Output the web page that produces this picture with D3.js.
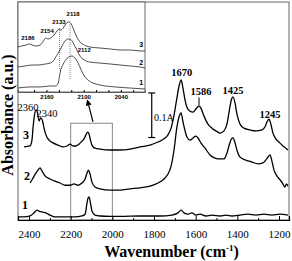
<!DOCTYPE html>
<html>
<head>
<meta charset="utf-8">
<script src="https://cdn.jsdelivr.net/npm/d3@7"></script>
<style>
body { margin: 0; background: #fff; }
</style>
</head>
<body>
<div id="graph"></div>
<script>
var width = 292, height = 261;
var margin = {top: 2, right: 3, bottom: 41, left: 18};

// main spectra: [wavenumber (cm-1), absorbance]
var spectrum1 = [[2453,.007],[2424,.007],[2395,.009],[2376,.016],[2362,.022],[2352,.020],[2338,.018],[2319,.016],[2299,.011],[2275,.007],
  [2227,.007],[2179,.007],[2146,.009],[2131,.013],[2124,.031],[2117,.049],[2112,.052],[2105,.038],[2098,.020],[2083,.011],[2059,.009],
  [2011,.008],[1963,.008],[1867,.009],[1771,.009],[1714,.011],[1685,.016],[1670,.022],[1656,.016],[1637,.013],[1618,.016],[1599,.011],
  [1579,.013],[1551,.009],[1522,.011],[1483,.009],[1455,.011],[1426,.009],[1387,.011],[1349,.013],[1311,.011],[1272,.013],[1234,.011],
  [1195,.013],[1157,.011]];
var spectrum2 = [[2395,.083],[2381,.094],[2367,.105],[2357,.112],[2347,.117],[2338,.110],[2323,.099],[2299,.092],[2275,.087],[2251,.083],
  [2227,.078],[2203,.078],[2184,.081],[2165,.078],[2146,.083],[2131,.092],[2122,.105],[2115,.112],[2107,.103],[2098,.085],[2083,.074],
  [2059,.070],[2011,.067],[1963,.067],[1915,.070],[1867,.072],[1819,.076],[1781,.083],[1752,.092],[1733,.103],[1718,.121],[1704,.157],
  [1690,.209],[1680,.231],[1670,.240],[1661,.220],[1651,.200],[1642,.186],[1627,.179],[1613,.184],[1599,.188],[1589,.184],[1575,.173],
  [1555,.161],[1531,.146],[1507,.139],[1483,.137],[1464,.137],[1450,.150],[1438,.170],[1428,.182],[1421,.184],[1411,.173],[1402,.157],
  [1387,.141],[1363,.135],[1330,.130],[1301,.126],[1277,.128],[1263,.135],[1253,.141],[1243,.146],[1234,.132],[1224,.112],[1210,.099],
  [1195,.090],[1181,.081],[1172,.074],[1164,.081],[1157,.076]];
var spectrum3 = [[2424,.164],[2395,.166],[2386,.179],[2381,.206],[2374,.235],[2367,.247],[2359,.240],[2352,.222],[2347,.227],[2343,.229],
  [2335,.222],[2328,.206],[2319,.191],[2304,.179],[2285,.173],[2261,.168],[2237,.164],[2218,.166],[2203,.170],[2189,.166],[2175,.166],
  [2160,.170],[2146,.177],[2136,.182],[2127,.191],[2119,.197],[2112,.193],[2105,.179],[2098,.168],[2083,.161],[2059,.159],[2011,.157],
  [1963,.157],[1915,.159],[1867,.164],[1819,.168],[1781,.175],[1752,.182],[1733,.191],[1718,.206],[1704,.235],[1690,.274],[1680,.300],
  [1670,.314],[1661,.296],[1651,.269],[1642,.253],[1627,.244],[1613,.242],[1599,.249],[1584,.256],[1575,.251],[1560,.233],[1541,.215],
  [1522,.206],[1503,.200],[1483,.195],[1464,.200],[1450,.215],[1438,.247],[1428,.271],[1421,.276],[1411,.262],[1402,.238],[1387,.215],
  [1368,.206],[1339,.202],[1311,.200],[1282,.202],[1267,.209],[1258,.220],[1248,.226],[1239,.215],[1229,.195],[1215,.182],[1196,.173],
  [1181,.166],[1167,.161],[1157,.157]];

var mainTicks = [2400, 2200, 2000, 1800, 1600, 1400, 1200];
var minorTicks = [2300, 2100, 1900, 1700, 1500, 1300];
var traceNames = [{name: "1", w: 2419, a: .025}, {name: "2", w: 2410, a: .090}, {name: "3", w: 2415, a: .182}];
var peakLabels = [{name: "2360", w: 2405, a: .244, bold: false}, {name: "2340", w: 2314, a: .230, bold: false},
  {name: "1670", w: 1667, a: .322, bold: true}, {name: "1586", w: 1574, a: .280, bold: true},
  {name: "1425", w: 1421, a: .283, bold: true}, {name: "1245", w: 1243, a: .228, bold: true}];

// inset spectra: [wavenumber, relative absorbance]
var inset1 = [[2206,.044],[2187,.056],[2170,.056],[2154,.067],[2145,.067],[2141,.100],[2139,.178],[2137,.244],[2133,.311],[2129,.356],
  [2124,.389],[2119,.400],[2114,.378],[2109,.322],[2104,.244],[2099,.178],[2093,.133],[2085,.100],[2074,.078],[2049,.056],[2025,.044],[2001,.033]];
var inset2 = [[2206,.278],[2195,.289],[2183,.300],[2174,.300],[2162,.311],[2154,.322],[2149,.344],[2145,.389],[2140,.444],[2135,.511],
  [2130,.567],[2125,.589],[2120,.578],[2116,.533],[2111,.467],[2106,.400],[2099,.356],[2090,.333],[2074,.322],[2057,.311],[2041,.300],
  [2025,.289],[2009,.278],[2001,.267]];
var inset3 = [[2206,.500],[2200,.511],[2193,.522],[2188,.533],[2183,.522],[2177,.511],[2170,.522],[2166,.556],[2161,.600],[2158,.589],
  [2153,.600],[2148,.633],[2143,.678],[2140,.700],[2137,.689],[2133,.711],[2129,.756],[2124,.778],[2120,.756],[2116,.689],[2111,.611],
  [2106,.556],[2099,.522],[2090,.500],[2074,.489],[2057,.478],[2041,.467],[2025,.467],[2009,.456],[2001,.456]];
var insetTicks = [2180, 2160, 2140, 2120, 2100, 2080, 2060, 2040, 2020];
var insetLabels = [{name: "2186", w: 2190, v: .578}, {name: "2154", w: 2159, v: .656}, {name: "2133", w: 2140, v: .756},
  {name: "2118", w: 2117, v: .844}, {name: "2112", w: 2099, v: .444}];
var insetNames = [{name: "1", w: 2007, v: .078}, {name: "2", w: 2007, v: .300}, {name: "3", w: 2007, v: .503}];
var dropLines = [{w: 2139, top: .711, bottom: .244}, {w: 2122, top: .756, bottom: .133}];

var svg = d3.select("#graph").append("svg")
    .attr("width", width)
    .attr("height", height)
    .style("font-family", "'Liberation Serif', 'Times New Roman', serif");

var x = d3.scaleLinear().domain([2453, 1152]).range([margin.left, width - margin.right]);
var y = d3.scaleLinear().domain([0, 0.489]).range([height - margin.bottom, margin.top]);

var line = d3.line()
    .x(function(d) { return x(d[0]); })
    .y(function(d) { return y(d[1]); })
    .curve(d3.curveMonotoneX);

// frame
svg.append("rect")
    .attr("x", margin.left).attr("y", margin.top)
    .attr("width", width - margin.right - margin.left)
    .attr("height", height - margin.bottom - margin.top)
    .attr("fill", "none").attr("stroke", "#999").attr("stroke-width", 1.5);

// zoom box and arrow
svg.append("rect")
    .attr("x", x(2200)).attr("y", y(0.217))
    .attr("width", x(2000) - x(2200)).attr("height", y(0) - y(0.217))
    .attr("fill", "none").attr("stroke", "#888").attr("stroke-width", 1);

svg.append("defs").append("marker")
    .attr("id", "head").attr("viewBox", "0 0 10 10")
    .attr("refX", 9).attr("refY", 5)
    .attr("markerWidth", 5).attr("markerHeight", 5)
    .attr("orient", "auto")
    .append("path").attr("d", "M0,0L10,5L0,10z").attr("fill", "#000");

svg.append("line")
    .attr("x1", x(2093)).attr("y1", y(0.220))
    .attr("x2", x(2120)).attr("y2", y(0.269))
    .attr("stroke", "#000").attr("stroke-width", 1.2)
    .attr("marker-end", "url(#head)");

// spectra
svg.selectAll(".trace")
    .data([spectrum1, spectrum2, spectrum3])
    .enter().append("path")
    .attr("class", "trace")
    .attr("d", line)
    .attr("fill", "none")
    .attr("stroke", "#000")
    .attr("stroke-width", 1.3);

// x axis
var xAxis = svg.append("g")
    .attr("transform", "translate(0," + (height - margin.bottom) + ")")
    .call(d3.axisBottom(x).tickValues(mainTicks).tickSize(-4).tickPadding(10).tickFormat(d3.format("d")));
xAxis.select(".domain").attr("stroke", "#000").attr("stroke-width", 1.2);
xAxis.selectAll("text").attr("font-size", 11).attr("font-family", "'Liberation Serif', serif").attr("fill", "#000");

svg.append("g")
    .attr("transform", "translate(0," + (height - margin.bottom) + ")")
    .call(d3.axisBottom(x).tickValues(minorTicks).tickSize(-2).tickFormat(""))
    .select(".domain").remove();

svg.append("text")
    .attr("x", (margin.left + width - margin.right) / 2 + 18)
    .attr("y", 257)
    .attr("text-anchor", "middle")
    .attr("font-size", 16).attr("font-weight", "bold")
    .text("Wavenumber (cm")
    .append("tspan").attr("font-size", 9).attr("dy", -6).text("-1")
    .select(function() { return this.parentNode; })
    .append("tspan").attr("dy", 6).text(")");

svg.append("text")
    .attr("transform", "translate(13,115) rotate(-90)")
    .attr("text-anchor", "middle")
    .attr("font-size", 16).attr("font-weight", "bold")
    .text("Absorbance (a.u.)");

// scale bar 0.1 A
var bar = svg.append("g").attr("stroke", "#000").attr("stroke-width", 1.2);
bar.append("line").attr("x1", x(1811)).attr("x2", x(1811)).attr("y1", y(0.185)).attr("y2", y(0.285));
bar.append("line").attr("x1", x(1811) - 3.5).attr("x2", x(1811) + 3.5).attr("y1", y(0.185)).attr("y2", y(0.185));
bar.append("line").attr("x1", x(1811) - 3.5).attr("x2", x(1811) + 3.5).attr("y1", y(0.285)).attr("y2", y(0.285));
svg.append("text")
    .attr("x", x(1800)).attr("y", y(0.223))
    .attr("font-size", 10)
    .text("0.1A");

// labels on main chart
svg.selectAll(".tname")
    .data(traceNames)
    .enter().append("text")
    .attr("class", "tname")
    .attr("x", function(d) { return x(d.w); })
    .attr("y", function(d) { return y(d.a); })
    .attr("text-anchor", "middle")
    .attr("font-size", 12).attr("font-weight", "bold")
    .text(function(d) { return d.name; });

svg.selectAll(".peak")
    .data(peakLabels)
    .enter().append("text")
    .attr("class", "peak")
    .attr("x", function(d) { return x(d.w); })
    .attr("y", function(d) { return y(d.a); })
    .attr("text-anchor", "middle")
    .attr("font-size", 10.5)
    .attr("font-weight", function(d) { return d.bold ? "bold" : "normal"; })
    .text(function(d) { return d.name; });

svg.append("line")
    .attr("x1", x(1584)).attr("x2", x(1584))
    .attr("y1", y(0.275)).attr("y2", y(0.258))
    .attr("stroke", "#000").attr("stroke-width", 1);

// inset
var ix = d3.scaleLinear().domain([2206, 2001]).range([18, 145]);
var iy = d3.scaleLinear().domain([0, 1]).range([92, 2]);
var iline = d3.line()
    .x(function(d) { return ix(d[0]); })
    .y(function(d) { return iy(d[1]); })
    .curve(d3.curveMonotoneX);

var inset = svg.append("g").style("font-family", "'Liberation Sans', Arial, sans-serif");

inset.append("rect")
    .attr("x", 18).attr("y", 2).attr("width", 127).attr("height", 90)
    .attr("fill", "#fff").attr("stroke", "#444").attr("stroke-width", 0.8);

inset.selectAll(".drop")
    .data(dropLines)
    .enter().append("line")
    .attr("x1", function(d) { return ix(d.w); })
    .attr("x2", function(d) { return ix(d.w); })
    .attr("y1", function(d) { return iy(d.top); })
    .attr("y2", function(d) { return iy(d.bottom); })
    .attr("stroke", "#888").attr("stroke-width", 1).attr("stroke-dasharray", "1,1");

inset.selectAll(".itrace")
    .data([inset1, inset2, inset3])
    .enter().append("path")
    .attr("d", iline)
    .attr("fill", "none")
    .attr("stroke", "#222")
    .attr("stroke-width", 0.8);

var iAxis = inset.append("g")
    .attr("transform", "translate(0,92)")
    .call(d3.axisBottom(ix).tickValues(insetTicks).tickSize(-2).tickPadding(3)
      .tickFormat(function(d) { return (d === 2160 || d === 2100 || d === 2040) ? d : ""; }));
iAxis.select(".domain").attr("stroke", "#444").attr("stroke-width", 0.8);
iAxis.selectAll("text").attr("font-size", 6).attr("font-weight", "bold")
    .attr("font-family", "'Liberation Sans', Arial, sans-serif").attr("fill", "#000");

inset.selectAll(".ilab")
    .data(insetLabels)
    .enter().append("text")
    .attr("x", function(d) { return ix(d.w); })
    .attr("y", function(d) { return iy(d.v); })
    .attr("text-anchor", "middle")
    .attr("font-size", 6).attr("font-weight", "bold")
    .text(function(d) { return d.name; });

inset.selectAll(".iname")
    .data(insetNames)
    .enter().append("text")
    .attr("x", function(d) { return ix(d.w); })
    .attr("y", function(d) { return iy(d.v); })
    .attr("text-anchor", "middle")
    .attr("font-size", 7).attr("font-weight", "bold")
    .text(function(d) { return d.name; });
</script>
</body>
</html>
